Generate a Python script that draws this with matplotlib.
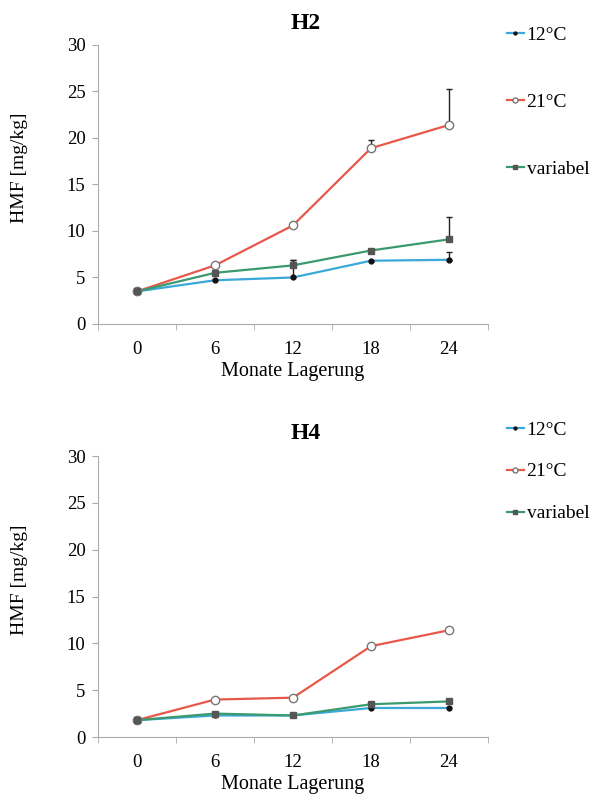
import matplotlib
matplotlib.use('Agg')
import matplotlib.pyplot as plt
import numpy as np

plt.rcParams['font.family'] = ['Liberation Serif', 'DejaVu Serif']

# Data
months = ['0', '6', '12', '18', '24']
labels = ['12°C', '21°C', 'variabel']

h2_12 = [3.5, 4.7, 5.0, 6.8, 6.9]
h2_21 = [3.5, 6.3, 10.6, 18.9, 21.4]
h2_var = [3.5, 5.5, 6.3, 7.9, 9.1]
h2_12_err = [0, 0, 1.9, 0, 0.8]
h2_21_err = [0, 0, 0, 0.9, 3.9]
h2_var_err = [0, 0, 0.6, 0.2, 2.4]

h4_12 = [1.8, 2.3, 2.3, 3.1, 3.1]
h4_21 = [1.8, 4.0, 4.2, 9.7, 11.4]
h4_var = [1.8, 2.5, 2.3, 3.5, 3.8]

col_12 = '#3aa8d8'
col_21 = '#e8584a'
col_var = '#3a9a6e'


def draw(ax, s12, s21, svar, e12=None, e21=None, evar=None):
    x = np.arange(len(months))
    for vals, err in [(s21, e21), (svar, evar), (s12, e12)]:
        if err is not None:
            ax.errorbar(x, vals, yerr=[np.zeros(len(err)), err], fmt='none',
                        ecolor='#222222', elinewidth=1.0, capsize=2, zorder=2)
    ax.plot(x, s12, color=col_12, lw=1.6, marker='o', ms=3.5,
            mfc='#111111', mec='#111111', label=labels[0], zorder=3)
    ax.plot(x, s21, color=col_21, lw=1.6, marker='o', ms=6,
            mfc='white', mec='#777777', label=labels[1], zorder=3)
    ax.plot(x, svar, color=col_var, lw=1.6, marker='s', ms=4.5,
            mfc='#555555', mec='#555555', label=labels[2], zorder=3)
    ax.set_xlim(-0.5, 4.5)
    ax.set_ylim(0, 30)
    ax.set_yticks(range(0, 31, 5))
    ax.set_xticks(x)
    ax.set_xticklabels(months)
    ax.set_xticks(np.arange(-0.5, 5, 1), minor=True)
    ax.tick_params(axis='x', which='major', length=0, labelsize=13.5, pad=12)
    ax.tick_params(axis='x', which='minor', length=4, color='#aaaaaa')
    ax.tick_params(axis='y', length=4, color='#aaaaaa', labelsize=13.5, pad=5)
    for s in ['top', 'right']:
        ax.spines[s].set_visible(False)
    for s in ['left', 'bottom']:
        ax.spines[s].set_color('#aaaaaa')
    ax.set_ylabel('HMF [mg/kg]', fontsize=14)
    ax.yaxis.set_label_coords(-0.18, 0.56)
    ax.set_xlabel('Monate Lagerung', fontsize=14.5, labelpad=3)


fig = plt.figure(figsize=(5.92, 7.96), dpi=100)
ax1 = fig.add_axes([0.1655, 0.593, 0.6588, 0.3505])
ax2 = fig.add_axes([0.1655, 0.0741, 0.6588, 0.353])

draw(ax1, h2_12, h2_21, h2_var, h2_12_err, h2_21_err, h2_var_err)
draw(ax2, h4_12, h4_21, h4_var)

# Titles
fig.text(0.517, 0.971, 'H2', ha='center', va='center', fontsize=17, fontweight='bold')
fig.text(0.517, 0.456, 'H4', ha='center', va='center', fontsize=17, fontweight='bold')

ax1.legend(loc='upper left', bbox_to_anchor=(1.049, 1.068), frameon=False,
           fontsize=14, labelspacing=2.55, handlelength=0.85, handletextpad=0.15,
           borderpad=0, borderaxespad=0, markerscale=0.6)
ax2.legend(loc='upper left', bbox_to_anchor=(1.049, 1.125), frameon=False,
           fontsize=14, labelspacing=1.25, handlelength=0.85, handletextpad=0.15,
           borderpad=0, borderaxespad=0, markerscale=0.6)

fig.savefig('out.png', dpi=100)
